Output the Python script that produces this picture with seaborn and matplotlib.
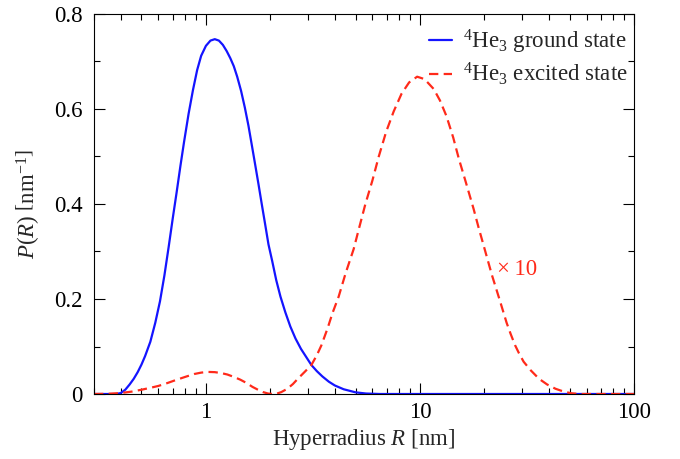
import numpy as np
import pandas as pd
import matplotlib
matplotlib.use("Agg")
import matplotlib.pyplot as plt
import seaborn as sns
from matplotlib.ticker import FixedLocator, LogLocator, MultipleLocator, FuncFormatter, NullFormatter

# ---- data ----
R_ground = [0.30, 0.36, 0.38, 0.40, 0.42, 0.44, 0.46, 0.48, 0.50, 0.52, 0.55, 0.58,
            0.61, 0.64, 0.67, 0.70, 0.73, 0.76, 0.79, 0.83, 0.87, 0.91, 0.95, 1.00,
            1.05, 1.10, 1.15, 1.20, 1.25, 1.30, 1.35, 1.40, 1.46, 1.52, 1.58, 1.64,
            1.70, 1.76, 1.82, 1.89, 1.96, 2.04, 2.13, 2.23, 2.35, 2.48, 2.62, 2.78,
            2.95, 3.11, 3.30, 3.50, 3.75, 4.00, 4.40, 5.00, 5.60, 6.50, 10.0, 30.0, 100.0]
P_ground = [0.0, 0.0, 0.0, 0.002, 0.009, 0.020, 0.032, 0.046, 0.062, 0.080, 0.110, 0.150,
            0.195, 0.250, 0.310, 0.370, 0.425, 0.480, 0.530, 0.590, 0.640, 0.682, 0.712, 0.733,
            0.744, 0.747, 0.744, 0.735, 0.722, 0.707, 0.690, 0.668, 0.638, 0.603, 0.565, 0.523,
            0.482, 0.442, 0.402, 0.358, 0.315, 0.280, 0.240, 0.205, 0.172, 0.142, 0.117, 0.095,
            0.077, 0.061, 0.048, 0.037, 0.026, 0.018, 0.010, 0.0035, 0.001, 0.0, 0.0, 0.0, 0.0]

R_excited = [0.30, 0.35, 0.40, 0.45, 0.50, 0.55, 0.60, 0.66, 0.73, 0.80, 0.88, 0.95,
             1.02, 1.10, 1.18, 1.26, 1.35, 1.45, 1.55, 1.65, 1.75, 1.85, 1.95, 2.05,
             2.15, 2.25, 2.40, 2.55, 2.70, 2.90, 3.11, 3.30, 3.46, 3.70, 3.90, 4.17,
             4.50, 4.90, 5.20, 5.56, 6.00, 6.42, 6.95, 7.54, 8.20, 8.90, 9.70, 10.5,
             11.6, 12.4, 13.3, 14.3, 15.2, 16.4, 17.8, 18.8, 20.2, 21.7, 23.5, 25.4,
             26.5, 27.8, 29.0, 30.5, 32.9, 36.0, 39.3, 43.0, 47.0, 51.0, 56.0, 100.0]
P_excited = [0.0, 0.0005, 0.002, 0.005, 0.009, 0.013, 0.017, 0.023, 0.030, 0.036, 0.042, 0.045,
             0.0465, 0.046, 0.044, 0.041, 0.036, 0.030, 0.023, 0.015, 0.009, 0.004, 0.001, 0.0,
             0.001, 0.004, 0.011, 0.021, 0.033, 0.047, 0.061, 0.082, 0.102, 0.138, 0.170, 0.205,
             0.255, 0.305, 0.350, 0.400, 0.450, 0.500, 0.552, 0.595, 0.632, 0.656, 0.668, 0.663,
             0.642, 0.618, 0.585, 0.540, 0.495, 0.445, 0.390, 0.350, 0.300, 0.250, 0.200, 0.150,
             0.127, 0.103, 0.086, 0.068, 0.050, 0.032, 0.020, 0.011, 0.005, 0.0015, 0.0, 0.0]

labels = [r"$^{4}$He$_{3}$ ground state", r"$^{4}$He$_{3}$ excited state"]
x_ticks = [1, 10, 100]
y_ticks = [0, 0.2, 0.4, 0.6, 0.8]

BLUE = "#1414ff"
RED = "#ff2a1a"
FS = 16.5

sns.set_theme(style="ticks")
plt.rcParams["font.family"] = ["Liberation Serif", "DejaVu Serif"]
plt.rcParams["mathtext.fontset"] = "custom"
plt.rcParams["mathtext.rm"] = "Liberation Serif"
plt.rcParams["mathtext.it"] = "Liberation Serif:italic"
plt.rcParams["mathtext.bf"] = "Liberation Serif:bold"

fig = plt.figure(figsize=(6.8, 4.59), dpi=100)
ax = fig.add_axes([94 / 680, (459 - 394) / 459, 540 / 680, 380 / 459])

df_g = pd.DataFrame({"R": R_ground, "P": P_ground})
df_e = pd.DataFrame({"R": R_excited, "P": P_excited})
sns.lineplot(data=df_g, x="R", y="P", ax=ax, color=BLUE, lw=1.6, estimator=None, sort=False)
sns.lineplot(data=df_e, x="R", y="P", ax=ax, color=RED, lw=1.6, estimator=None, sort=False)
ax.lines[1].set_linestyle((0, (4.2, 2.4)))

ax.set_xscale("log")
ax.set_xlim(0.3, 100)
ax.set_ylim(0, 0.8)
ax.xaxis.set_major_locator(FixedLocator(x_ticks))
ax.xaxis.set_major_formatter(FuncFormatter(lambda v, p: "%g" % v))
ax.xaxis.set_minor_locator(LogLocator(base=10, subs=np.arange(2, 10)))
ax.xaxis.set_minor_formatter(NullFormatter())
ax.yaxis.set_major_locator(FixedLocator(y_ticks))
ax.yaxis.set_minor_locator(MultipleLocator(0.1))
ax.yaxis.set_major_formatter(FuncFormatter(lambda v, p: "%g" % round(v, 2)))

ax.tick_params(which="both", direction="in", top=True, right=True, width=0.8, colors="black")
ax.tick_params(which="major", length=8, labelsize=FS)
ax.tick_params(axis="x", which="major", pad=6)
ax.tick_params(axis="y", which="major", pad=8)
ax.tick_params(which="minor", length=4.5)
for s in ax.spines.values():
    s.set_linewidth(0.8)
    s.set_color("black")

ax.set_xlabel(r"Hyperradius $R$ [nm]", fontsize=FS, labelpad=3)
ax.set_ylabel(r"$P(R)\ \left[\mathrm{nm}^{-1}\right]$", fontsize=FS, labelpad=8)

ax.legend(ax.lines[:2], labels, loc="upper right", bbox_to_anchor=(1.0, 0.979),
          frameon=False, fontsize=FS, handlelength=1.0, handletextpad=0.5,
          labelspacing=0.22, borderaxespad=0.0, borderpad=0.25)

ax.text(23.0, 0.263, "×\u200910", color=RED, fontsize=FS, va="center", ha="left")

fig.savefig("out.png", dpi=100)
